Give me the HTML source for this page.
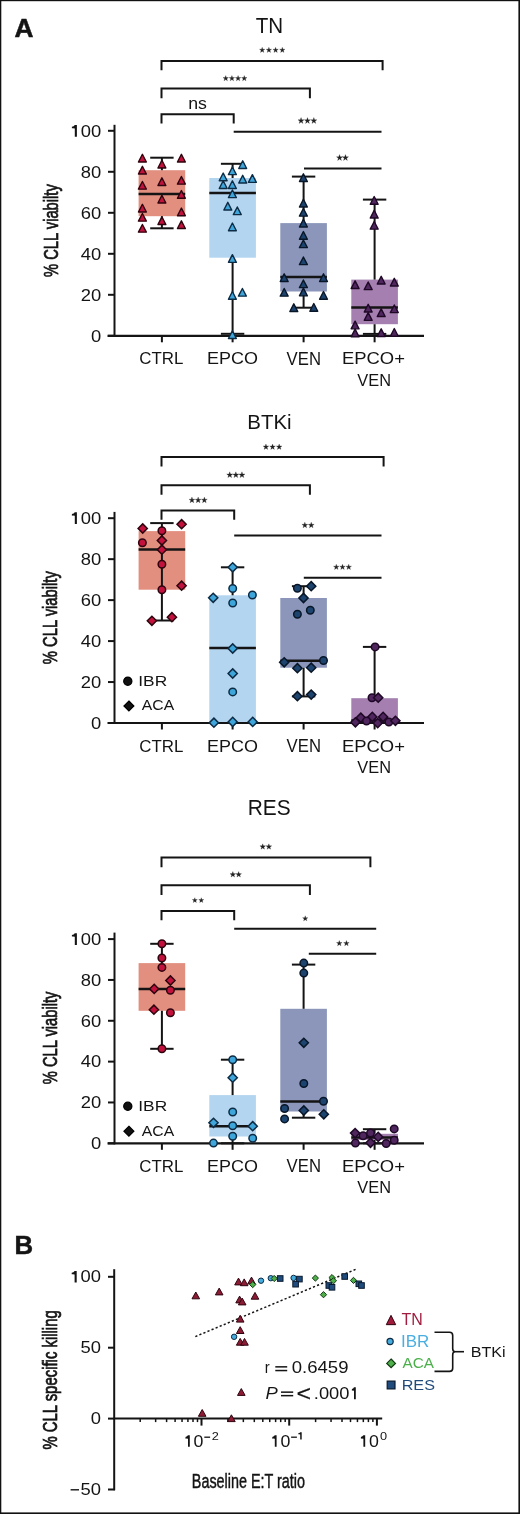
<!DOCTYPE html>
<html><head><meta charset="utf-8"><style>
html,body{margin:0;padding:0;background:#fff;}
body{width:520px;height:1514px;overflow:hidden;font-family:"Liberation Sans", sans-serif;}
svg{display:block;will-change:transform;}
text{font-family:"Liberation Sans", sans-serif;}
</style></head><body>
<svg width="520" height="1514" viewBox="0 0 520 1514" font-family="Liberation Sans, sans-serif">
<rect x="0" y="0" width="520" height="1514" fill="#fff"/>
<text transform="translate(14.54,36.8) scale(0.9923,1)" font-size="26.47" font-weight="bold" font-style="normal" fill="#141414" stroke="#141414" stroke-width="0.5">A</text>
<path d="M161.5,70.3 V61 H382.6 V70.3" fill="none" stroke="#141414" stroke-width="2"/>
<path d="M161.5,98.2 V88.6 H309.9 V98.2" fill="none" stroke="#141414" stroke-width="2"/>
<path d="M161.5,123.6 V114.3 H233.7 V123.6" fill="none" stroke="#141414" stroke-width="2"/>
<line x1="233.7" y1="131.8" x2="381.5" y2="131.8" stroke="#141414" stroke-width="2"/>
<line x1="304" y1="168.4" x2="381.5" y2="168.4" stroke="#141414" stroke-width="2"/>
<path d="M262.18,47.3 L262.84,49.21 L264.86,49.25 L263.25,50.47 L263.84,52.4 L262.18,51.25 L260.52,52.4 L261.11,50.47 L259.5,49.25 L261.52,49.21ZM268.89,47.3 L269.56,49.21 L271.57,49.25 L269.97,50.47 L270.55,52.4 L268.89,51.25 L267.24,52.4 L267.82,50.47 L266.21,49.25 L268.23,49.21ZM275.61,47.3 L276.27,49.21 L278.29,49.25 L276.68,50.47 L277.26,52.4 L275.61,51.25 L273.95,52.4 L274.53,50.47 L272.93,49.25 L274.94,49.21ZM282.32,47.3 L282.98,49.21 L285,49.25 L283.39,50.47 L283.98,52.4 L282.32,51.25 L280.66,52.4 L281.25,50.47 L279.64,49.25 L281.66,49.21Z" fill="#222" stroke="#222" stroke-width="0.25" stroke-linejoin="miter"/>
<path d="M225.73,75.6 L226.41,77.54 L228.47,77.59 L226.83,78.83 L227.42,80.8 L225.73,79.62 L224.04,80.8 L224.64,78.83 L223,77.59 L225.06,77.54ZM231.91,75.6 L232.59,77.54 L234.65,77.59 L233,78.83 L233.6,80.8 L231.91,79.62 L230.22,80.8 L230.82,78.83 L229.18,77.59 L231.24,77.54ZM238.09,75.6 L238.76,77.54 L240.82,77.59 L239.18,78.83 L239.78,80.8 L238.09,79.62 L236.4,80.8 L237,78.83 L235.35,77.59 L237.41,77.54ZM244.27,75.6 L244.94,77.54 L247,77.59 L245.36,78.83 L245.96,80.8 L244.27,79.62 L242.58,80.8 L243.17,78.83 L241.53,77.59 L243.59,77.54Z" fill="#222" stroke="#222" stroke-width="0.25" stroke-linejoin="miter"/>
<text transform="translate(188.2,108.53) scale(1.0675,1)" font-size="16.62" font-weight="normal" font-style="normal" fill="#141414" stroke="#141414" stroke-width="0.0">ns</text>
<path d="M301.05,117.6 L301.8,119.77 L304.1,119.82 L302.27,121.2 L302.93,123.4 L301.05,122.09 L299.16,123.4 L299.83,121.2 L298,119.82 L300.3,119.77ZM307.45,117.6 L308.2,119.77 L310.5,119.82 L308.67,121.2 L309.33,123.4 L307.45,122.09 L305.57,123.4 L306.23,121.2 L304.4,119.82 L306.7,119.77ZM313.85,117.6 L314.6,119.77 L316.9,119.82 L315.07,121.2 L315.74,123.4 L313.85,122.09 L311.97,123.4 L312.63,121.2 L310.8,119.82 L313.1,119.77Z" fill="#222" stroke="#222" stroke-width="0.25" stroke-linejoin="miter"/>
<path d="M339.55,154.6 L340.3,156.77 L342.6,156.82 L340.77,158.2 L341.43,160.4 L339.55,159.09 L337.66,160.4 L338.33,158.2 L336.5,156.82 L338.8,156.77ZM345.45,154.6 L346.2,156.77 L348.5,156.82 L346.67,158.2 L347.34,160.4 L345.45,159.09 L343.57,160.4 L344.23,158.2 L342.4,156.82 L344.7,156.77Z" fill="#222" stroke="#222" stroke-width="0.25" stroke-linejoin="miter"/>
<rect x="138.6" y="170.2" width="46.6" height="46" fill="#E28F80"/>
<line x1="161.9" y1="157.7" x2="161.9" y2="170.2" stroke="#141414" stroke-width="2"/>
<line x1="161.9" y1="216.2" x2="161.9" y2="228.3" stroke="#141414" stroke-width="2"/>
<line x1="150.2" y1="157.7" x2="173.6" y2="157.7" stroke="#141414" stroke-width="2"/>
<line x1="150.2" y1="228.3" x2="173.6" y2="228.3" stroke="#141414" stroke-width="2"/>
<line x1="138.6" y1="194.1" x2="185.2" y2="194.1" stroke="#141414" stroke-width="2.5"/>
<rect x="209.3" y="178" width="46.6" height="79.7" fill="#B3D5F0"/>
<line x1="232.6" y1="163.8" x2="232.6" y2="178" stroke="#141414" stroke-width="2"/>
<line x1="232.6" y1="257.7" x2="232.6" y2="333.8" stroke="#141414" stroke-width="2"/>
<line x1="220.9" y1="163.8" x2="244.3" y2="163.8" stroke="#141414" stroke-width="2"/>
<line x1="220.9" y1="333.8" x2="244.3" y2="333.8" stroke="#141414" stroke-width="2"/>
<line x1="209.3" y1="193.1" x2="255.9" y2="193.1" stroke="#141414" stroke-width="2.5"/>
<rect x="280.3" y="223.1" width="46.6" height="68.4" fill="#8B96BA"/>
<line x1="303.6" y1="176.6" x2="303.6" y2="223.1" stroke="#141414" stroke-width="2"/>
<line x1="303.6" y1="291.5" x2="303.6" y2="307.7" stroke="#141414" stroke-width="2"/>
<line x1="291.9" y1="176.6" x2="315.3" y2="176.6" stroke="#141414" stroke-width="2"/>
<line x1="291.9" y1="307.7" x2="315.3" y2="307.7" stroke="#141414" stroke-width="2"/>
<line x1="280.3" y1="276.9" x2="326.9" y2="276.9" stroke="#141414" stroke-width="2.5"/>
<rect x="351.3" y="279.6" width="46.6" height="44.6" fill="#A47FAF"/>
<line x1="374.6" y1="199.6" x2="374.6" y2="279.6" stroke="#141414" stroke-width="2"/>
<line x1="374.6" y1="324.2" x2="374.6" y2="333.9" stroke="#141414" stroke-width="2"/>
<line x1="362.9" y1="199.6" x2="386.3" y2="199.6" stroke="#141414" stroke-width="2"/>
<line x1="362.9" y1="333.9" x2="386.3" y2="333.9" stroke="#141414" stroke-width="2"/>
<line x1="351.3" y1="307.6" x2="397.9" y2="307.6" stroke="#141414" stroke-width="2.5"/>
<line x1="114.5" y1="124.8" x2="114.5" y2="336.8" stroke="#141414" stroke-width="2"/>
<line x1="108" y1="335.8" x2="115" y2="335.8" stroke="#141414" stroke-width="2"/>
<line x1="108" y1="294.8" x2="115" y2="294.8" stroke="#141414" stroke-width="2"/>
<line x1="108" y1="253.8" x2="115" y2="253.8" stroke="#141414" stroke-width="2"/>
<line x1="108" y1="212.8" x2="115" y2="212.8" stroke="#141414" stroke-width="2"/>
<line x1="108" y1="171.8" x2="115" y2="171.8" stroke="#141414" stroke-width="2"/>
<line x1="108" y1="130.8" x2="115" y2="130.8" stroke="#141414" stroke-width="2"/>
<line x1="107.5" y1="335.8" x2="424" y2="335.8" stroke="#141414" stroke-width="2.2"/>
<line x1="161.9" y1="335.8" x2="161.9" y2="342.3" stroke="#141414" stroke-width="2"/>
<line x1="232.6" y1="335.8" x2="232.6" y2="342.3" stroke="#141414" stroke-width="2"/>
<line x1="303.6" y1="335.8" x2="303.6" y2="342.3" stroke="#141414" stroke-width="2"/>
<line x1="374.6" y1="335.8" x2="374.6" y2="342.3" stroke="#141414" stroke-width="2"/>
<text transform="translate(90.88,341.53) scale(1.1033,1)" font-size="16.68" font-weight="normal" fill="#141414" stroke="#141414" stroke-width="0.0">0</text>
<text transform="translate(80.66,300.53) scale(1.1033,1)" font-size="16.68" font-weight="normal" fill="#141414" stroke="#141414" stroke-width="0.0">20</text>
<text transform="translate(80.66,259.53) scale(1.1033,1)" font-size="16.68" font-weight="normal" fill="#141414" stroke="#141414" stroke-width="0.0">40</text>
<text transform="translate(80.66,218.53) scale(1.1033,1)" font-size="16.68" font-weight="normal" fill="#141414" stroke="#141414" stroke-width="0.0">60</text>
<text transform="translate(80.66,177.53) scale(1.1033,1)" font-size="16.68" font-weight="normal" fill="#141414" stroke="#141414" stroke-width="0.0">80</text>
<text transform="translate(80.66,136.53) scale(1.1033,1)" font-size="16.68" font-weight="normal" fill="#141414" stroke="#141414" stroke-width="0.0">00</text>
<path d="M74.8,124.9 H76.9 V136.7 H74.8 V128.44 Q73.06,127.97 71.9,128.32 V126.67 Q73.93,126.32 74.8,124.9 Z" fill="#141414"/>
<text transform="translate(139.36,364.43) scale(0.9797,1)" font-size="17.24" font-weight="normal" font-style="normal" fill="#141414" stroke="#141414" stroke-width="0.0">CTRL</text>
<text transform="translate(206.92,364.43) scale(1.0429,1)" font-size="17.24" font-weight="normal" font-style="normal" fill="#141414" stroke="#141414" stroke-width="0.0">EPCO</text>
<text transform="translate(286.62,364.6) scale(0.9411,1)" font-size="17.75" font-weight="normal" font-style="normal" fill="#141414" stroke="#141414" stroke-width="0.0">VEN</text>
<text transform="translate(341.98,364.43) scale(1.0690,1)" font-size="17.24" font-weight="normal" font-style="normal" fill="#141414" stroke="#141414" stroke-width="0.0">EPCO+</text>
<text transform="translate(357.32,385.6) scale(0.9717,1)" font-size="16.87" font-weight="normal" font-style="normal" fill="#141414" stroke="#141414" stroke-width="0.0">VEN</text>
<text transform="translate(255.79,33.1) scale(0.9183,1)" font-size="22.40" font-weight="normal" font-style="normal" fill="#141414" stroke="#141414" stroke-width="0.0">TN</text>
<text transform="translate(57.56,276.92) rotate(-90) scale(0.7381,1)" font-size="19.95" fill="#141414" stroke="#141414" stroke-width="0.745">% CLL viabilty</text>
<polygon points="142.4,154.25 146.35,161.95 138.45,161.95" fill="#C3113D" stroke="#2E040E" stroke-width="1.4" stroke-linejoin="round"/>
<polygon points="142.4,166.35 146.35,174.05 138.45,174.05" fill="#C3113D" stroke="#2E040E" stroke-width="1.4" stroke-linejoin="round"/>
<polygon points="142.4,181.45 146.35,189.15 138.45,189.15" fill="#C3113D" stroke="#2E040E" stroke-width="1.4" stroke-linejoin="round"/>
<polygon points="142.4,204.25 146.35,211.95 138.45,211.95" fill="#C3113D" stroke="#2E040E" stroke-width="1.4" stroke-linejoin="round"/>
<polygon points="142.4,213.45 146.35,221.15 138.45,221.15" fill="#C3113D" stroke="#2E040E" stroke-width="1.4" stroke-linejoin="round"/>
<polygon points="142.4,224.45 146.35,232.15 138.45,232.15" fill="#C3113D" stroke="#2E040E" stroke-width="1.4" stroke-linejoin="round"/>
<polygon points="161.9,160.25 165.85,167.95 157.95,167.95" fill="#C3113D" stroke="#2E040E" stroke-width="1.4" stroke-linejoin="round"/>
<polygon points="161.9,177.75 165.85,185.45 157.95,185.45" fill="#C3113D" stroke="#2E040E" stroke-width="1.4" stroke-linejoin="round"/>
<polygon points="161.9,195.25 165.85,202.95 157.95,202.95" fill="#C3113D" stroke="#2E040E" stroke-width="1.4" stroke-linejoin="round"/>
<polygon points="161.9,216.85 165.85,224.55 157.95,224.55" fill="#C3113D" stroke="#2E040E" stroke-width="1.4" stroke-linejoin="round"/>
<polygon points="181.4,154.25 185.35,161.95 177.45,161.95" fill="#C3113D" stroke="#2E040E" stroke-width="1.4" stroke-linejoin="round"/>
<polygon points="181.4,176.45 185.35,184.15 177.45,184.15" fill="#C3113D" stroke="#2E040E" stroke-width="1.4" stroke-linejoin="round"/>
<polygon points="181.4,190.55 185.35,198.25 177.45,198.25" fill="#C3113D" stroke="#2E040E" stroke-width="1.4" stroke-linejoin="round"/>
<polygon points="181.4,208.05 185.35,215.75 177.45,215.75" fill="#C3113D" stroke="#2E040E" stroke-width="1.4" stroke-linejoin="round"/>
<polygon points="181.4,220.85 185.35,228.55 177.45,228.55" fill="#C3113D" stroke="#2E040E" stroke-width="1.4" stroke-linejoin="round"/>
<polygon points="242.7,160.75 246.65,168.45 238.75,168.45" fill="#3EA6DA" stroke="#0E2B44" stroke-width="1.4" stroke-linejoin="round"/>
<polygon points="232.4,166.95 236.35,174.65 228.45,174.65" fill="#3EA6DA" stroke="#0E2B44" stroke-width="1.4" stroke-linejoin="round"/>
<polygon points="223.2,173.05 227.15,180.75 219.25,180.75" fill="#3EA6DA" stroke="#0E2B44" stroke-width="1.4" stroke-linejoin="round"/>
<polygon points="242.7,175.35 246.65,183.05 238.75,183.05" fill="#3EA6DA" stroke="#0E2B44" stroke-width="1.4" stroke-linejoin="round"/>
<polygon points="252.4,174.65 256.35,182.35 248.45,182.35" fill="#3EA6DA" stroke="#0E2B44" stroke-width="1.4" stroke-linejoin="round"/>
<polygon points="223.2,180.75 227.15,188.45 219.25,188.45" fill="#3EA6DA" stroke="#0E2B44" stroke-width="1.4" stroke-linejoin="round"/>
<polygon points="232.4,180.75 236.35,188.45 228.45,188.45" fill="#3EA6DA" stroke="#0E2B44" stroke-width="1.4" stroke-linejoin="round"/>
<polygon points="232.4,189.95 236.35,197.65 228.45,197.65" fill="#3EA6DA" stroke="#0E2B44" stroke-width="1.4" stroke-linejoin="round"/>
<polygon points="227.8,202.35 231.75,210.05 223.85,210.05" fill="#3EA6DA" stroke="#0E2B44" stroke-width="1.4" stroke-linejoin="round"/>
<polygon points="237.3,206.95 241.25,214.65 233.35,214.65" fill="#3EA6DA" stroke="#0E2B44" stroke-width="1.4" stroke-linejoin="round"/>
<polygon points="232.4,223.05 236.35,230.75 228.45,230.75" fill="#3EA6DA" stroke="#0E2B44" stroke-width="1.4" stroke-linejoin="round"/>
<polygon points="232.4,254.65 236.35,262.35 228.45,262.35" fill="#3EA6DA" stroke="#0E2B44" stroke-width="1.4" stroke-linejoin="round"/>
<polygon points="232.4,291.55 236.35,299.25 228.45,299.25" fill="#3EA6DA" stroke="#0E2B44" stroke-width="1.4" stroke-linejoin="round"/>
<polygon points="242.4,288.45 246.35,296.15 238.45,296.15" fill="#3EA6DA" stroke="#0E2B44" stroke-width="1.4" stroke-linejoin="round"/>
<polygon points="232.4,330.75 236.35,338.45 228.45,338.45" fill="#3EA6DA" stroke="#0E2B44" stroke-width="1.4" stroke-linejoin="round"/>
<polygon points="303.4,173.85 307.35,181.55 299.45,181.55" fill="#1D446F" stroke="#081628" stroke-width="1.4" stroke-linejoin="round"/>
<polygon points="303.4,199.25 307.35,206.95 299.45,206.95" fill="#1D446F" stroke="#081628" stroke-width="1.4" stroke-linejoin="round"/>
<polygon points="303.4,208.45 307.35,216.15 299.45,216.15" fill="#1D446F" stroke="#081628" stroke-width="1.4" stroke-linejoin="round"/>
<polygon points="303.4,219.25 307.35,226.95 299.45,226.95" fill="#1D446F" stroke="#081628" stroke-width="1.4" stroke-linejoin="round"/>
<polygon points="303.4,231.55 307.35,239.25 299.45,239.25" fill="#1D446F" stroke="#081628" stroke-width="1.4" stroke-linejoin="round"/>
<polygon points="303.4,239.95 307.35,247.65 299.45,247.65" fill="#1D446F" stroke="#081628" stroke-width="1.4" stroke-linejoin="round"/>
<polygon points="303.4,256.95 307.35,264.65 299.45,264.65" fill="#1D446F" stroke="#081628" stroke-width="1.4" stroke-linejoin="round"/>
<polygon points="284.2,273.85 288.15,281.55 280.25,281.55" fill="#1D446F" stroke="#081628" stroke-width="1.4" stroke-linejoin="round"/>
<polygon points="323.5,273.85 327.45,281.55 319.55,281.55" fill="#1D446F" stroke="#081628" stroke-width="1.4" stroke-linejoin="round"/>
<polygon points="303.4,279.95 307.35,287.65 299.45,287.65" fill="#1D446F" stroke="#081628" stroke-width="1.4" stroke-linejoin="round"/>
<polygon points="303.4,288.15 307.35,295.85 299.45,295.85" fill="#1D446F" stroke="#081628" stroke-width="1.4" stroke-linejoin="round"/>
<polygon points="284.2,288.45 288.15,296.15 280.25,296.15" fill="#1D446F" stroke="#081628" stroke-width="1.4" stroke-linejoin="round"/>
<polygon points="323.5,291.55 327.45,299.25 319.55,299.25" fill="#1D446F" stroke="#081628" stroke-width="1.4" stroke-linejoin="round"/>
<polygon points="293.8,303.85 297.75,311.55 289.85,311.55" fill="#1D446F" stroke="#081628" stroke-width="1.4" stroke-linejoin="round"/>
<polygon points="313.8,303.55 317.75,311.25 309.85,311.25" fill="#1D446F" stroke="#081628" stroke-width="1.4" stroke-linejoin="round"/>
<polygon points="374.2,196.55 378.15,204.25 370.25,204.25" fill="#50265F" stroke="#1E0826" stroke-width="1.4" stroke-linejoin="round"/>
<polygon points="374.2,210.35 378.15,218.05 370.25,218.05" fill="#50265F" stroke="#1E0826" stroke-width="1.4" stroke-linejoin="round"/>
<polygon points="374.2,221.45 378.15,229.15 370.25,229.15" fill="#50265F" stroke="#1E0826" stroke-width="1.4" stroke-linejoin="round"/>
<polygon points="355.1,280.85 359.05,288.55 351.15,288.55" fill="#50265F" stroke="#1E0826" stroke-width="1.4" stroke-linejoin="round"/>
<polygon points="368.2,281.95 372.15,289.65 364.25,289.65" fill="#50265F" stroke="#1E0826" stroke-width="1.4" stroke-linejoin="round"/>
<polygon points="381.2,276.25 385.15,283.95 377.25,283.95" fill="#50265F" stroke="#1E0826" stroke-width="1.4" stroke-linejoin="round"/>
<polygon points="394.3,278.35 398.25,286.05 390.35,286.05" fill="#50265F" stroke="#1E0826" stroke-width="1.4" stroke-linejoin="round"/>
<polygon points="368.2,304.25 372.15,311.95 364.25,311.95" fill="#50265F" stroke="#1E0826" stroke-width="1.4" stroke-linejoin="round"/>
<polygon points="394.3,304.95 398.25,312.65 390.35,312.65" fill="#50265F" stroke="#1E0826" stroke-width="1.4" stroke-linejoin="round"/>
<polygon points="381.2,308.85 385.15,316.55 377.25,316.55" fill="#50265F" stroke="#1E0826" stroke-width="1.4" stroke-linejoin="round"/>
<polygon points="368.2,312.65 372.15,320.35 364.25,320.35" fill="#50265F" stroke="#1E0826" stroke-width="1.4" stroke-linejoin="round"/>
<polygon points="355.1,321.15 359.05,328.85 351.15,328.85" fill="#50265F" stroke="#1E0826" stroke-width="1.4" stroke-linejoin="round"/>
<polygon points="355.1,329.15 359.05,336.85 351.15,336.85" fill="#50265F" stroke="#1E0826" stroke-width="1.4" stroke-linejoin="round"/>
<polygon points="381.2,328.85 385.15,336.55 377.25,336.55" fill="#50265F" stroke="#1E0826" stroke-width="1.4" stroke-linejoin="round"/>
<polygon points="394.3,328.55 398.25,336.25 390.35,336.25" fill="#50265F" stroke="#1E0826" stroke-width="1.4" stroke-linejoin="round"/>
<path d="M161.5,466.4 V457.1 H383.6 V466.4" fill="none" stroke="#141414" stroke-width="2"/>
<path d="M161.5,494.8 V485.3 H309.9 V494.8" fill="none" stroke="#141414" stroke-width="2"/>
<path d="M161.5,519.8 V510.4 H234.2 V519.8" fill="none" stroke="#141414" stroke-width="2"/>
<line x1="234.2" y1="535.6" x2="381.5" y2="535.6" stroke="#141414" stroke-width="2"/>
<line x1="303.8" y1="577.8" x2="381.5" y2="577.8" stroke="#141414" stroke-width="2"/>
<path d="M265.94,444 L266.64,446.02 L268.78,446.06 L267.07,447.35 L267.69,449.4 L265.94,448.18 L264.18,449.4 L264.8,447.35 L263.1,446.06 L265.24,446.02ZM272.55,444 L273.25,446.02 L275.39,446.06 L273.69,447.35 L274.3,449.4 L272.55,448.18 L270.8,449.4 L271.41,447.35 L269.71,446.06 L271.85,446.02ZM279.16,444 L279.86,446.02 L282,446.06 L280.3,447.35 L280.92,449.4 L279.16,448.18 L277.41,449.4 L278.03,447.35 L276.32,446.06 L278.46,446.02Z" fill="#222" stroke="#222" stroke-width="0.25" stroke-linejoin="miter"/>
<path d="M229.75,471.8 L230.5,473.97 L232.8,474.02 L230.97,475.4 L231.63,477.6 L229.75,476.29 L227.86,477.6 L228.53,475.4 L226.7,474.02 L229,473.97ZM235.85,471.8 L236.6,473.97 L238.9,474.02 L237.07,475.4 L237.73,477.6 L235.85,476.29 L233.97,477.6 L234.63,475.4 L232.8,474.02 L235.1,473.97ZM241.95,471.8 L242.7,473.97 L245,474.02 L243.17,475.4 L243.84,477.6 L241.95,476.29 L240.07,477.6 L240.73,475.4 L238.9,474.02 L241.2,473.97Z" fill="#222" stroke="#222" stroke-width="0.25" stroke-linejoin="miter"/>
<path d="M191.94,497.1 L192.67,499.19 L194.89,499.24 L193.12,500.58 L193.76,502.7 L191.94,501.43 L190.12,502.7 L190.77,500.58 L189,499.24 L191.22,499.19ZM198.15,497.1 L198.88,499.19 L201.09,499.24 L199.33,500.58 L199.97,502.7 L198.15,501.43 L196.33,502.7 L196.97,500.58 L195.21,499.24 L197.42,499.19ZM204.36,497.1 L205.08,499.19 L207.3,499.24 L205.53,500.58 L206.18,502.7 L204.36,501.43 L202.54,502.7 L203.18,500.58 L201.41,499.24 L203.63,499.19Z" fill="#222" stroke="#222" stroke-width="0.25" stroke-linejoin="miter"/>
<path d="M304.84,522.2 L305.57,524.29 L307.79,524.34 L306.02,525.68 L306.66,527.8 L304.84,526.53 L303.02,527.8 L303.67,525.68 L301.9,524.34 L304.12,524.29ZM311.26,522.2 L311.98,524.29 L314.2,524.34 L312.43,525.68 L313.08,527.8 L311.26,526.53 L309.44,527.8 L310.08,525.68 L308.31,524.34 L310.53,524.29Z" fill="#222" stroke="#222" stroke-width="0.25" stroke-linejoin="miter"/>
<path d="M336.29,564.2 L336.98,566.18 L339.07,566.22 L337.4,567.49 L338.01,569.5 L336.29,568.3 L334.56,569.5 L335.17,567.49 L333.5,566.22 L335.6,566.18ZM342.5,564.2 L343.19,566.18 L345.29,566.22 L343.61,567.49 L344.22,569.5 L342.5,568.3 L340.78,569.5 L341.39,567.49 L339.71,566.22 L341.81,566.18ZM348.71,564.2 L349.4,566.18 L351.5,566.22 L349.83,567.49 L350.44,569.5 L348.71,568.3 L346.99,569.5 L347.6,567.49 L345.93,566.22 L348.02,566.18Z" fill="#222" stroke="#222" stroke-width="0.25" stroke-linejoin="miter"/>
<rect x="138.6" y="531.1" width="46.6" height="58.6" fill="#E28F80"/>
<line x1="161.9" y1="523.1" x2="161.9" y2="620.5" stroke="#141414" stroke-width="2"/>
<line x1="150.2" y1="523.1" x2="173.6" y2="523.1" stroke="#141414" stroke-width="2"/>
<line x1="150.2" y1="620.5" x2="173.6" y2="620.5" stroke="#141414" stroke-width="2"/>
<line x1="138.6" y1="549.5" x2="185.2" y2="549.5" stroke="#141414" stroke-width="2.5"/>
<rect x="209.3" y="595.3" width="46.6" height="127.7" fill="#B3D5F0"/>
<line x1="232.6" y1="567.3" x2="232.6" y2="595.3" stroke="#141414" stroke-width="2"/>
<line x1="232.6" y1="723" x2="232.6" y2="723" stroke="#141414" stroke-width="2"/>
<line x1="220.9" y1="567.3" x2="244.3" y2="567.3" stroke="#141414" stroke-width="2"/>
<line x1="220.9" y1="723" x2="244.3" y2="723" stroke="#141414" stroke-width="2"/>
<line x1="209.3" y1="648.1" x2="255.9" y2="648.1" stroke="#141414" stroke-width="2.5"/>
<rect x="280.3" y="598" width="46.6" height="69.7" fill="#8B96BA"/>
<line x1="303.6" y1="586.2" x2="303.6" y2="598" stroke="#141414" stroke-width="2"/>
<line x1="303.6" y1="667.7" x2="303.6" y2="696.4" stroke="#141414" stroke-width="2"/>
<line x1="291.9" y1="586.2" x2="315.3" y2="586.2" stroke="#141414" stroke-width="2"/>
<line x1="291.9" y1="696.4" x2="315.3" y2="696.4" stroke="#141414" stroke-width="2"/>
<line x1="280.3" y1="660.8" x2="326.9" y2="660.8" stroke="#141414" stroke-width="2.5"/>
<rect x="351.3" y="698.2" width="46.6" height="24.8" fill="#A47FAF"/>
<line x1="374.6" y1="646.9" x2="374.6" y2="698.2" stroke="#141414" stroke-width="2"/>
<line x1="374.6" y1="723" x2="374.6" y2="723" stroke="#141414" stroke-width="2"/>
<line x1="362.9" y1="646.9" x2="386.3" y2="646.9" stroke="#141414" stroke-width="2"/>
<line x1="362.9" y1="723" x2="386.3" y2="723" stroke="#141414" stroke-width="2"/>
<line x1="351.3" y1="720.5" x2="397.9" y2="720.5" stroke="#141414" stroke-width="2.5"/>
<line x1="114.5" y1="511.9" x2="114.5" y2="724" stroke="#141414" stroke-width="2"/>
<line x1="108" y1="723" x2="115" y2="723" stroke="#141414" stroke-width="2"/>
<line x1="108" y1="682.04" x2="115" y2="682.04" stroke="#141414" stroke-width="2"/>
<line x1="108" y1="641.08" x2="115" y2="641.08" stroke="#141414" stroke-width="2"/>
<line x1="108" y1="600.12" x2="115" y2="600.12" stroke="#141414" stroke-width="2"/>
<line x1="108" y1="559.16" x2="115" y2="559.16" stroke="#141414" stroke-width="2"/>
<line x1="108" y1="518.2" x2="115" y2="518.2" stroke="#141414" stroke-width="2"/>
<line x1="107.5" y1="723" x2="424" y2="723" stroke="#141414" stroke-width="2.2"/>
<line x1="161.9" y1="723" x2="161.9" y2="729.5" stroke="#141414" stroke-width="2"/>
<line x1="232.6" y1="723" x2="232.6" y2="729.5" stroke="#141414" stroke-width="2"/>
<line x1="303.6" y1="723" x2="303.6" y2="729.5" stroke="#141414" stroke-width="2"/>
<line x1="374.6" y1="723" x2="374.6" y2="729.5" stroke="#141414" stroke-width="2"/>
<text transform="translate(90.88,728.73) scale(1.1033,1)" font-size="16.68" font-weight="normal" fill="#141414" stroke="#141414" stroke-width="0.0">0</text>
<text transform="translate(80.66,687.77) scale(1.1033,1)" font-size="16.68" font-weight="normal" fill="#141414" stroke="#141414" stroke-width="0.0">20</text>
<text transform="translate(80.66,646.81) scale(1.1033,1)" font-size="16.68" font-weight="normal" fill="#141414" stroke="#141414" stroke-width="0.0">40</text>
<text transform="translate(80.66,605.85) scale(1.1033,1)" font-size="16.68" font-weight="normal" fill="#141414" stroke="#141414" stroke-width="0.0">60</text>
<text transform="translate(80.66,564.89) scale(1.1033,1)" font-size="16.68" font-weight="normal" fill="#141414" stroke="#141414" stroke-width="0.0">80</text>
<text transform="translate(80.66,523.93) scale(1.1033,1)" font-size="16.68" font-weight="normal" fill="#141414" stroke="#141414" stroke-width="0.0">00</text>
<path d="M74.8,512.3 H76.9 V524.1 H74.8 V515.84 Q73.06,515.37 71.9,515.72 V514.07 Q73.93,513.72 74.8,512.3 Z" fill="#141414"/>
<text transform="translate(139.36,751.63) scale(0.9797,1)" font-size="17.24" font-weight="normal" font-style="normal" fill="#141414" stroke="#141414" stroke-width="0.0">CTRL</text>
<text transform="translate(206.92,751.63) scale(1.0429,1)" font-size="17.24" font-weight="normal" font-style="normal" fill="#141414" stroke="#141414" stroke-width="0.0">EPCO</text>
<text transform="translate(286.62,751.8) scale(0.9411,1)" font-size="17.75" font-weight="normal" font-style="normal" fill="#141414" stroke="#141414" stroke-width="0.0">VEN</text>
<text transform="translate(341.98,751.63) scale(1.0690,1)" font-size="17.24" font-weight="normal" font-style="normal" fill="#141414" stroke="#141414" stroke-width="0.0">EPCO+</text>
<text transform="translate(357.32,772.8) scale(0.9717,1)" font-size="16.87" font-weight="normal" font-style="normal" fill="#141414" stroke="#141414" stroke-width="0.0">VEN</text>
<text transform="translate(247.32,428.7) scale(1.0211,1)" font-size="20.00" font-weight="normal" font-style="normal" fill="#141414" stroke="#141414" stroke-width="0.0">BTKi</text>
<text transform="translate(57.36,664.22) rotate(-90) scale(0.7413,1)" font-size="19.95" fill="#141414" stroke="#141414" stroke-width="0.742">% CLL viabilty</text>
<circle cx="127.8" cy="681.2" r="4.1" fill="#111" stroke="#000" stroke-width="1.2"/>
<text transform="translate(138.3,685.9) scale(1.1468,1)" font-size="15.13" font-weight="normal" font-style="normal" fill="#141414" stroke="#141414" stroke-width="0.0">IBR</text>
<polygon points="128.9,701.04 133.86,706 128.9,710.96 123.94,706" fill="#111" stroke="#000" stroke-width="1.2"/>
<text transform="translate(141.86,710.35) scale(1.0309,1)" font-size="15.27" font-weight="normal" font-style="normal" fill="#141414" stroke="#141414" stroke-width="0.0">ACA</text>
<polygon points="142.7,523.9 147.3,528.5 142.7,533.1 138.1,528.5" fill="#C3113D" stroke="#2E040E" stroke-width="1.5"/>
<polygon points="181.6,519.6 186.2,524.2 181.6,528.8 177,524.2" fill="#C3113D" stroke="#2E040E" stroke-width="1.5"/>
<circle cx="161.9" cy="530.8" r="3.75" fill="#C3113D" stroke="#2E040E" stroke-width="1.5"/>
<circle cx="142.4" cy="542.8" r="3.75" fill="#C3113D" stroke="#2E040E" stroke-width="1.5"/>
<polygon points="161.9,535.9 166.5,540.5 161.9,545.1 157.3,540.5" fill="#C3113D" stroke="#2E040E" stroke-width="1.5"/>
<polygon points="161.9,545.1 166.5,549.7 161.9,554.3 157.3,549.7" fill="#C3113D" stroke="#2E040E" stroke-width="1.5"/>
<circle cx="161.9" cy="564.3" r="3.75" fill="#C3113D" stroke="#2E040E" stroke-width="1.5"/>
<polygon points="181.6,581.1 186.2,585.7 181.6,590.3 177,585.7" fill="#C3113D" stroke="#2E040E" stroke-width="1.5"/>
<circle cx="161.9" cy="589.7" r="3.75" fill="#C3113D" stroke="#2E040E" stroke-width="1.5"/>
<polygon points="151.9,616.2 156.5,620.8 151.9,625.4 147.3,620.8" fill="#C3113D" stroke="#2E040E" stroke-width="1.5"/>
<polygon points="171.9,612.6 176.5,617.2 171.9,621.8 167.3,617.2" fill="#C3113D" stroke="#2E040E" stroke-width="1.5"/>
<polygon points="232.7,562.7 237.3,567.3 232.7,571.9 228.1,567.3" fill="#3EA6DA" stroke="#0E2B44" stroke-width="1.5"/>
<circle cx="232.7" cy="588.5" r="3.75" fill="#3EA6DA" stroke="#0E2B44" stroke-width="1.5"/>
<polygon points="213.2,593.2 217.8,597.8 213.2,602.4 208.6,597.8" fill="#3EA6DA" stroke="#0E2B44" stroke-width="1.5"/>
<circle cx="252.4" cy="595" r="3.75" fill="#3EA6DA" stroke="#0E2B44" stroke-width="1.5"/>
<circle cx="232.7" cy="603" r="3.75" fill="#3EA6DA" stroke="#0E2B44" stroke-width="1.5"/>
<polygon points="232.7,643.9 237.3,648.5 232.7,653.1 228.1,648.5" fill="#3EA6DA" stroke="#0E2B44" stroke-width="1.5"/>
<polygon points="232.7,668.9 237.3,673.5 232.7,678.1 228.1,673.5" fill="#3EA6DA" stroke="#0E2B44" stroke-width="1.5"/>
<circle cx="232.7" cy="691.9" r="3.75" fill="#3EA6DA" stroke="#0E2B44" stroke-width="1.5"/>
<polygon points="213.9,718.1 218.5,722.7 213.9,727.3 209.3,722.7" fill="#3EA6DA" stroke="#0E2B44" stroke-width="1.5"/>
<polygon points="232.7,717.3 237.3,721.9 232.7,726.5 228.1,721.9" fill="#3EA6DA" stroke="#0E2B44" stroke-width="1.5"/>
<polygon points="252.7,717.3 257.3,721.9 252.7,726.5 248.1,721.9" fill="#3EA6DA" stroke="#0E2B44" stroke-width="1.5"/>
<circle cx="297.4" cy="588.2" r="3.75" fill="#1D446F" stroke="#081628" stroke-width="1.5"/>
<polygon points="311.2,581.6 315.8,586.2 311.2,590.8 306.6,586.2" fill="#1D446F" stroke="#081628" stroke-width="1.5"/>
<polygon points="303.5,593.4 308.1,598 303.5,602.6 298.9,598" fill="#1D446F" stroke="#081628" stroke-width="1.5"/>
<circle cx="297.4" cy="614.3" r="3.75" fill="#1D446F" stroke="#081628" stroke-width="1.5"/>
<circle cx="310.3" cy="610.3" r="3.75" fill="#1D446F" stroke="#081628" stroke-width="1.5"/>
<polygon points="284.2,657.7 288.8,662.3 284.2,666.9 279.6,662.3" fill="#1D446F" stroke="#081628" stroke-width="1.5"/>
<circle cx="323.5" cy="660.5" r="3.75" fill="#1D446F" stroke="#081628" stroke-width="1.5"/>
<polygon points="297.4,663.6 302,668.2 297.4,672.8 292.8,668.2" fill="#1D446F" stroke="#081628" stroke-width="1.5"/>
<polygon points="311.2,663.1 315.8,667.7 311.2,672.3 306.6,667.7" fill="#1D446F" stroke="#081628" stroke-width="1.5"/>
<polygon points="297.4,691.6 302,696.2 297.4,700.8 292.8,696.2" fill="#1D446F" stroke="#081628" stroke-width="1.5"/>
<polygon points="311.2,690 315.8,694.6 311.2,699.2 306.6,694.6" fill="#1D446F" stroke="#081628" stroke-width="1.5"/>
<circle cx="375.1" cy="646.9" r="3.75" fill="#50265F" stroke="#1E0826" stroke-width="1.5"/>
<circle cx="372" cy="697.7" r="3.75" fill="#50265F" stroke="#1E0826" stroke-width="1.5"/>
<polygon points="378.2,693.1 382.8,697.7 378.2,702.3 373.6,697.7" fill="#50265F" stroke="#1E0826" stroke-width="1.5"/>
<polygon points="360.8,713.1 365.4,717.7 360.8,722.3 356.2,717.7" fill="#50265F" stroke="#1E0826" stroke-width="1.5"/>
<polygon points="372.3,712.3 376.9,716.9 372.3,721.5 367.7,716.9" fill="#50265F" stroke="#1E0826" stroke-width="1.5"/>
<polygon points="383.1,712.3 387.7,716.9 383.1,721.5 378.5,716.9" fill="#50265F" stroke="#1E0826" stroke-width="1.5"/>
<polygon points="355.4,717.7 360,722.3 355.4,726.9 350.8,722.3" fill="#50265F" stroke="#1E0826" stroke-width="1.5"/>
<circle cx="366.5" cy="721.1" r="3.75" fill="#50265F" stroke="#1E0826" stroke-width="1.5"/>
<polygon points="377.7,718.5 382.3,723.1 377.7,727.7 373.1,723.1" fill="#50265F" stroke="#1E0826" stroke-width="1.5"/>
<circle cx="388.9" cy="722" r="3.75" fill="#50265F" stroke="#1E0826" stroke-width="1.5"/>
<polygon points="395.4,716.2 400,720.8 395.4,725.4 390.8,720.8" fill="#50265F" stroke="#1E0826" stroke-width="1.5"/>
<path d="M161.5,867.2 V857.5 H370.4 V867.2" fill="none" stroke="#141414" stroke-width="2"/>
<path d="M161.5,894.9 V885.2 H309.9 V894.9" fill="none" stroke="#141414" stroke-width="2"/>
<path d="M161.5,920.2 V911 H234.2 V920.2" fill="none" stroke="#141414" stroke-width="2"/>
<line x1="234.2" y1="928.7" x2="376.2" y2="928.7" stroke="#141414" stroke-width="2"/>
<line x1="308.8" y1="953.8" x2="376.2" y2="953.8" stroke="#141414" stroke-width="2"/>
<path d="M262.74,843.8 L263.44,845.82 L265.58,845.86 L263.87,847.15 L264.49,849.2 L262.74,847.98 L260.98,849.2 L261.6,847.15 L259.9,845.86 L262.04,845.82ZM268.86,843.8 L269.56,845.82 L271.7,845.86 L270,847.15 L270.62,849.2 L268.86,847.98 L267.11,849.2 L267.73,847.15 L266.02,845.86 L268.16,845.82Z" fill="#222" stroke="#222" stroke-width="0.25" stroke-linejoin="miter"/>
<path d="M232.84,871.6 L233.54,873.62 L235.68,873.66 L233.97,874.95 L234.59,877 L232.84,875.78 L231.08,877 L231.7,874.95 L230,873.66 L232.14,873.62ZM238.66,871.6 L239.36,873.62 L241.5,873.66 L239.8,874.95 L240.42,877 L238.66,875.78 L236.91,877 L237.53,874.95 L235.82,873.66 L237.96,873.62Z" fill="#222" stroke="#222" stroke-width="0.25" stroke-linejoin="miter"/>
<path d="M194.82,897.7 L195.45,899.49 L197.35,899.53 L195.83,900.68 L196.38,902.5 L194.82,901.41 L193.26,902.5 L193.81,900.68 L192.3,899.53 L194.2,899.49ZM201.28,897.7 L201.9,899.49 L203.8,899.53 L202.29,900.68 L202.84,902.5 L201.28,901.41 L199.72,902.5 L200.27,900.68 L198.75,899.53 L200.65,899.49Z" fill="#222" stroke="#222" stroke-width="0.25" stroke-linejoin="miter"/>
<path d="M305.23,915.8 L305.88,917.67 L307.86,917.71 L306.28,918.91 L306.85,920.8 L305.23,919.67 L303.6,920.8 L304.18,918.91 L302.6,917.71 L304.58,917.67Z" fill="#222" stroke="#222" stroke-width="0.25" stroke-linejoin="miter"/>
<path d="M339.29,940.5 L339.98,942.48 L342.07,942.52 L340.4,943.79 L341.01,945.8 L339.29,944.6 L337.56,945.8 L338.17,943.79 L336.5,942.52 L338.6,942.48ZM346.41,940.5 L347.1,942.48 L349.2,942.52 L347.53,943.79 L348.14,945.8 L346.41,944.6 L344.69,945.8 L345.3,943.79 L343.63,942.52 L345.72,942.48Z" fill="#222" stroke="#222" stroke-width="0.25" stroke-linejoin="miter"/>
<rect x="138.6" y="963.1" width="46.6" height="47.7" fill="#E28F80"/>
<line x1="161.9" y1="943.8" x2="161.9" y2="963.1" stroke="#141414" stroke-width="2"/>
<line x1="161.9" y1="1010.8" x2="161.9" y2="1048.8" stroke="#141414" stroke-width="2"/>
<line x1="150.2" y1="943.8" x2="173.6" y2="943.8" stroke="#141414" stroke-width="2"/>
<line x1="150.2" y1="1048.8" x2="173.6" y2="1048.8" stroke="#141414" stroke-width="2"/>
<line x1="138.6" y1="988.9" x2="185.2" y2="988.9" stroke="#141414" stroke-width="2.5"/>
<rect x="209.3" y="1095.1" width="46.6" height="41.4" fill="#B3D5F0"/>
<line x1="232.6" y1="1059.7" x2="232.6" y2="1095.1" stroke="#141414" stroke-width="2"/>
<line x1="232.6" y1="1136.5" x2="232.6" y2="1143.3" stroke="#141414" stroke-width="2"/>
<line x1="220.9" y1="1059.7" x2="244.3" y2="1059.7" stroke="#141414" stroke-width="2"/>
<line x1="220.9" y1="1143.3" x2="244.3" y2="1143.3" stroke="#141414" stroke-width="2"/>
<line x1="209.3" y1="1126.2" x2="255.9" y2="1126.2" stroke="#141414" stroke-width="2.5"/>
<rect x="280.3" y="1008.8" width="46.6" height="102.7" fill="#8B96BA"/>
<line x1="303.6" y1="964.6" x2="303.6" y2="1008.8" stroke="#141414" stroke-width="2"/>
<line x1="303.6" y1="1111.5" x2="303.6" y2="1117.7" stroke="#141414" stroke-width="2"/>
<line x1="291.9" y1="964.6" x2="315.3" y2="964.6" stroke="#141414" stroke-width="2"/>
<line x1="291.9" y1="1117.7" x2="315.3" y2="1117.7" stroke="#141414" stroke-width="2"/>
<line x1="280.3" y1="1101.5" x2="326.9" y2="1101.5" stroke="#141414" stroke-width="2.5"/>
<rect x="351.3" y="1133.8" width="46.6" height="6.2" fill="#A47FAF"/>
<line x1="374.6" y1="1129.2" x2="374.6" y2="1133.8" stroke="#141414" stroke-width="2"/>
<line x1="374.6" y1="1140" x2="374.6" y2="1143.3" stroke="#141414" stroke-width="2"/>
<line x1="362.9" y1="1129.2" x2="386.3" y2="1129.2" stroke="#141414" stroke-width="2"/>
<line x1="362.9" y1="1143.3" x2="386.3" y2="1143.3" stroke="#141414" stroke-width="2"/>
<line x1="351.3" y1="1137.5" x2="397.9" y2="1137.5" stroke="#141414" stroke-width="2.5"/>
<line x1="114.5" y1="932.6" x2="114.5" y2="1144.3" stroke="#141414" stroke-width="2"/>
<line x1="108" y1="1143.3" x2="115" y2="1143.3" stroke="#141414" stroke-width="2"/>
<line x1="108" y1="1102.46" x2="115" y2="1102.46" stroke="#141414" stroke-width="2"/>
<line x1="108" y1="1061.62" x2="115" y2="1061.62" stroke="#141414" stroke-width="2"/>
<line x1="108" y1="1020.78" x2="115" y2="1020.78" stroke="#141414" stroke-width="2"/>
<line x1="108" y1="979.94" x2="115" y2="979.94" stroke="#141414" stroke-width="2"/>
<line x1="108" y1="939.1" x2="115" y2="939.1" stroke="#141414" stroke-width="2"/>
<line x1="107.5" y1="1143.3" x2="424" y2="1143.3" stroke="#141414" stroke-width="2.2"/>
<line x1="161.9" y1="1143.3" x2="161.9" y2="1149.8" stroke="#141414" stroke-width="2"/>
<line x1="232.6" y1="1143.3" x2="232.6" y2="1149.8" stroke="#141414" stroke-width="2"/>
<line x1="303.6" y1="1143.3" x2="303.6" y2="1149.8" stroke="#141414" stroke-width="2"/>
<line x1="374.6" y1="1143.3" x2="374.6" y2="1149.8" stroke="#141414" stroke-width="2"/>
<text transform="translate(90.88,1149.03) scale(1.1033,1)" font-size="16.68" font-weight="normal" fill="#141414" stroke="#141414" stroke-width="0.0">0</text>
<text transform="translate(80.66,1108.19) scale(1.1033,1)" font-size="16.68" font-weight="normal" fill="#141414" stroke="#141414" stroke-width="0.0">20</text>
<text transform="translate(80.66,1067.35) scale(1.1033,1)" font-size="16.68" font-weight="normal" fill="#141414" stroke="#141414" stroke-width="0.0">40</text>
<text transform="translate(80.66,1026.51) scale(1.1033,1)" font-size="16.68" font-weight="normal" fill="#141414" stroke="#141414" stroke-width="0.0">60</text>
<text transform="translate(80.66,985.67) scale(1.1033,1)" font-size="16.68" font-weight="normal" fill="#141414" stroke="#141414" stroke-width="0.0">80</text>
<text transform="translate(80.66,944.83) scale(1.1033,1)" font-size="16.68" font-weight="normal" fill="#141414" stroke="#141414" stroke-width="0.0">00</text>
<path d="M74.8,933.2 H76.9 V945 H74.8 V936.74 Q73.06,936.27 71.9,936.62 V934.97 Q73.93,934.62 74.8,933.2 Z" fill="#141414"/>
<text transform="translate(139.36,1171.93) scale(0.9797,1)" font-size="17.24" font-weight="normal" font-style="normal" fill="#141414" stroke="#141414" stroke-width="0.0">CTRL</text>
<text transform="translate(206.92,1171.93) scale(1.0429,1)" font-size="17.24" font-weight="normal" font-style="normal" fill="#141414" stroke="#141414" stroke-width="0.0">EPCO</text>
<text transform="translate(286.62,1172.1) scale(0.9411,1)" font-size="17.75" font-weight="normal" font-style="normal" fill="#141414" stroke="#141414" stroke-width="0.0">VEN</text>
<text transform="translate(341.98,1171.93) scale(1.0690,1)" font-size="17.24" font-weight="normal" font-style="normal" fill="#141414" stroke="#141414" stroke-width="0.0">EPCO+</text>
<text transform="translate(357.32,1193.1) scale(0.9717,1)" font-size="16.87" font-weight="normal" font-style="normal" fill="#141414" stroke="#141414" stroke-width="0.0">VEN</text>
<text transform="translate(247.78,815.39) scale(0.9862,1)" font-size="21.20" font-weight="normal" font-style="normal" fill="#141414" stroke="#141414" stroke-width="0.0">RES</text>
<text transform="translate(57.36,1084.22) rotate(-90) scale(0.7381,1)" font-size="19.95" fill="#141414" stroke="#141414" stroke-width="0.745">% CLL viabilty</text>
<circle cx="127.8" cy="1106.3" r="4.1" fill="#111" stroke="#000" stroke-width="1.2"/>
<text transform="translate(138.3,1110.8) scale(1.2048,1)" font-size="14.40" font-weight="normal" font-style="normal" fill="#141414" stroke="#141414" stroke-width="0.0">IBR</text>
<polygon points="128.9,1126.24 133.86,1131.2 128.9,1136.16 123.94,1131.2" fill="#111" stroke="#000" stroke-width="1.2"/>
<text transform="translate(141.86,1135.75) scale(1.0309,1)" font-size="15.27" font-weight="normal" font-style="normal" fill="#141414" stroke="#141414" stroke-width="0.0">ACA</text>
<circle cx="161.9" cy="943.8" r="3.75" fill="#C3113D" stroke="#2E040E" stroke-width="1.5"/>
<circle cx="161.9" cy="958" r="3.75" fill="#C3113D" stroke="#2E040E" stroke-width="1.5"/>
<circle cx="161.9" cy="967.4" r="3.75" fill="#C3113D" stroke="#2E040E" stroke-width="1.5"/>
<polygon points="170.4,975.9 175,980.5 170.4,985.1 165.8,980.5" fill="#C3113D" stroke="#2E040E" stroke-width="1.5"/>
<polygon points="154.2,984.3 158.8,988.9 154.2,993.5 149.6,988.9" fill="#C3113D" stroke="#2E040E" stroke-width="1.5"/>
<circle cx="170.4" cy="990.3" r="3.75" fill="#C3113D" stroke="#2E040E" stroke-width="1.5"/>
<polygon points="153.9,1005.1 158.5,1009.7 153.9,1014.3 149.3,1009.7" fill="#C3113D" stroke="#2E040E" stroke-width="1.5"/>
<circle cx="170.4" cy="1012.8" r="3.75" fill="#C3113D" stroke="#2E040E" stroke-width="1.5"/>
<circle cx="161.9" cy="1048.8" r="3.75" fill="#C3113D" stroke="#2E040E" stroke-width="1.5"/>
<circle cx="232.7" cy="1059.7" r="3.75" fill="#3EA6DA" stroke="#0E2B44" stroke-width="1.5"/>
<polygon points="232.7,1073.1 237.3,1077.7 232.7,1082.3 228.1,1077.7" fill="#3EA6DA" stroke="#0E2B44" stroke-width="1.5"/>
<circle cx="232.7" cy="1112" r="3.75" fill="#3EA6DA" stroke="#0E2B44" stroke-width="1.5"/>
<polygon points="213.5,1118.2 218.1,1122.8 213.5,1127.4 208.9,1122.8" fill="#3EA6DA" stroke="#0E2B44" stroke-width="1.5"/>
<circle cx="232.7" cy="1125.8" r="3.75" fill="#3EA6DA" stroke="#0E2B44" stroke-width="1.5"/>
<polygon points="252.7,1121.6 257.3,1126.2 252.7,1130.8 248.1,1126.2" fill="#3EA6DA" stroke="#0E2B44" stroke-width="1.5"/>
<circle cx="232.7" cy="1136.2" r="3.75" fill="#3EA6DA" stroke="#0E2B44" stroke-width="1.5"/>
<circle cx="252.7" cy="1138.2" r="3.75" fill="#3EA6DA" stroke="#0E2B44" stroke-width="1.5"/>
<circle cx="213.5" cy="1143.1" r="3.75" fill="#3EA6DA" stroke="#0E2B44" stroke-width="1.5"/>
<circle cx="303.8" cy="963.1" r="3.75" fill="#1D446F" stroke="#081628" stroke-width="1.5"/>
<circle cx="303.8" cy="973.1" r="3.75" fill="#1D446F" stroke="#081628" stroke-width="1.5"/>
<polygon points="303.8,1038.2 308.4,1042.8 303.8,1047.4 299.2,1042.8" fill="#1D446F" stroke="#081628" stroke-width="1.5"/>
<circle cx="303.8" cy="1083.5" r="3.75" fill="#1D446F" stroke="#081628" stroke-width="1.5"/>
<circle cx="323.5" cy="1101.2" r="3.75" fill="#1D446F" stroke="#081628" stroke-width="1.5"/>
<circle cx="284.6" cy="1108.5" r="3.75" fill="#1D446F" stroke="#081628" stroke-width="1.5"/>
<polygon points="303.8,1105.9 308.4,1110.5 303.8,1115.1 299.2,1110.5" fill="#1D446F" stroke="#081628" stroke-width="1.5"/>
<polygon points="323.8,1109.7 328.4,1114.3 323.8,1118.9 319.2,1114.3" fill="#1D446F" stroke="#081628" stroke-width="1.5"/>
<circle cx="284.6" cy="1118.9" r="3.75" fill="#1D446F" stroke="#081628" stroke-width="1.5"/>
<polygon points="355.1,1128.5 359.7,1133.1 355.1,1137.7 350.5,1133.1" fill="#50265F" stroke="#1E0826" stroke-width="1.5"/>
<circle cx="363.1" cy="1135.7" r="3.75" fill="#50265F" stroke="#1E0826" stroke-width="1.5"/>
<circle cx="370.5" cy="1133.1" r="3.75" fill="#50265F" stroke="#1E0826" stroke-width="1.5"/>
<polygon points="378.2,1132.3 382.8,1136.9 378.2,1141.5 373.6,1136.9" fill="#50265F" stroke="#1E0826" stroke-width="1.5"/>
<circle cx="394.2" cy="1128.9" r="3.75" fill="#50265F" stroke="#1E0826" stroke-width="1.5"/>
<circle cx="355.4" cy="1143.1" r="3.75" fill="#50265F" stroke="#1E0826" stroke-width="1.5"/>
<polygon points="370.5,1138.2 375.1,1142.8 370.5,1147.4 365.9,1142.8" fill="#50265F" stroke="#1E0826" stroke-width="1.5"/>
<circle cx="386.2" cy="1143.5" r="3.75" fill="#50265F" stroke="#1E0826" stroke-width="1.5"/>
<circle cx="394.2" cy="1140.3" r="3.75" fill="#50265F" stroke="#1E0826" stroke-width="1.5"/>
<text transform="translate(14.56,1253.8) scale(1.0111,1)" font-size="25.45" font-weight="bold" font-style="normal" fill="#141414" stroke="#141414" stroke-width="0.5">B</text>
<line x1="114.2" y1="1269.2" x2="114.2" y2="1490.2" stroke="#141414" stroke-width="2"/>
<line x1="108" y1="1276.8" x2="115" y2="1276.8" stroke="#141414" stroke-width="2"/>
<line x1="108" y1="1347.7" x2="115" y2="1347.7" stroke="#141414" stroke-width="2"/>
<line x1="108" y1="1418.6" x2="115" y2="1418.6" stroke="#141414" stroke-width="2"/>
<line x1="108" y1="1489.5" x2="115" y2="1489.5" stroke="#141414" stroke-width="2"/>
<text transform="translate(80.46,1282.44) scale(1.1224,1)" font-size="16.40" font-weight="normal" fill="#141414" stroke="#141414" stroke-width="0.0">00</text>
<path d="M74.6,1271 H76.7 V1282.6 H74.6 V1274.48 Q72.86,1274.02 71.7,1274.36 V1272.74 Q73.73,1272.39 74.6,1271 Z" fill="#141414"/>
<text transform="translate(80.46,1353.34) scale(1.1224,1)" font-size="16.40" font-weight="normal" fill="#141414" stroke="#141414" stroke-width="0.0">50</text>
<text transform="translate(90.68,1424.24) scale(1.1224,1)" font-size="16.40" font-weight="normal" fill="#141414" stroke="#141414" stroke-width="0.0">0</text>
<text transform="translate(80.46,1495.14) scale(1.1224,1)" font-size="16.40" font-weight="normal" fill="#141414" stroke="#141414" stroke-width="0.0">50</text>
<line x1="70.6" y1="1489.8" x2="79" y2="1489.8" stroke="#141414" stroke-width="1.4"/>
<line x1="113.5" y1="1418.6" x2="382.2" y2="1418.6" stroke="#141414" stroke-width="2"/>
<line x1="140.2" y1="1418.6" x2="140.2" y2="1422.1" stroke="#141414" stroke-width="1.5"/>
<line x1="155.64" y1="1418.6" x2="155.64" y2="1422.1" stroke="#141414" stroke-width="1.5"/>
<line x1="166.6" y1="1418.6" x2="166.6" y2="1422.1" stroke="#141414" stroke-width="1.5"/>
<line x1="175.1" y1="1418.6" x2="175.1" y2="1422.1" stroke="#141414" stroke-width="1.5"/>
<line x1="182.04" y1="1418.6" x2="182.04" y2="1422.1" stroke="#141414" stroke-width="1.5"/>
<line x1="187.92" y1="1418.6" x2="187.92" y2="1422.1" stroke="#141414" stroke-width="1.5"/>
<line x1="193" y1="1418.6" x2="193" y2="1422.1" stroke="#141414" stroke-width="1.5"/>
<line x1="197.49" y1="1418.6" x2="197.49" y2="1422.1" stroke="#141414" stroke-width="1.5"/>
<line x1="201.5" y1="1418.6" x2="201.5" y2="1425.6" stroke="#141414" stroke-width="2"/>
<line x1="227.9" y1="1418.6" x2="227.9" y2="1422.1" stroke="#141414" stroke-width="1.5"/>
<line x1="243.34" y1="1418.6" x2="243.34" y2="1422.1" stroke="#141414" stroke-width="1.5"/>
<line x1="254.3" y1="1418.6" x2="254.3" y2="1422.1" stroke="#141414" stroke-width="1.5"/>
<line x1="262.8" y1="1418.6" x2="262.8" y2="1422.1" stroke="#141414" stroke-width="1.5"/>
<line x1="269.74" y1="1418.6" x2="269.74" y2="1422.1" stroke="#141414" stroke-width="1.5"/>
<line x1="275.62" y1="1418.6" x2="275.62" y2="1422.1" stroke="#141414" stroke-width="1.5"/>
<line x1="280.7" y1="1418.6" x2="280.7" y2="1422.1" stroke="#141414" stroke-width="1.5"/>
<line x1="285.19" y1="1418.6" x2="285.19" y2="1422.1" stroke="#141414" stroke-width="1.5"/>
<line x1="289.2" y1="1418.6" x2="289.2" y2="1425.6" stroke="#141414" stroke-width="2"/>
<line x1="315.6" y1="1418.6" x2="315.6" y2="1422.1" stroke="#141414" stroke-width="1.5"/>
<line x1="331.04" y1="1418.6" x2="331.04" y2="1422.1" stroke="#141414" stroke-width="1.5"/>
<line x1="342" y1="1418.6" x2="342" y2="1422.1" stroke="#141414" stroke-width="1.5"/>
<line x1="350.5" y1="1418.6" x2="350.5" y2="1422.1" stroke="#141414" stroke-width="1.5"/>
<line x1="357.44" y1="1418.6" x2="357.44" y2="1422.1" stroke="#141414" stroke-width="1.5"/>
<line x1="363.32" y1="1418.6" x2="363.32" y2="1422.1" stroke="#141414" stroke-width="1.5"/>
<line x1="368.4" y1="1418.6" x2="368.4" y2="1422.1" stroke="#141414" stroke-width="1.5"/>
<line x1="372.89" y1="1418.6" x2="372.89" y2="1422.1" stroke="#141414" stroke-width="1.5"/>
<line x1="376.9" y1="1418.6" x2="376.9" y2="1425.6" stroke="#141414" stroke-width="2"/>
<path d="M188,1435.3 H189.8 V1446.8 H188 V1438.75 Q186.5,1438.29 185.5,1438.63 V1437.02 Q187.25,1436.68 188,1435.3 Z" fill="#141414"/>
<text transform="translate(193.59,1446.83) scale(1.0764,1)" font-size="16.54" font-weight="normal" fill="#141414" stroke="#141414" stroke-width="0.0">0</text>
<line x1="204.3" y1="1437.2" x2="210.1" y2="1437.2" stroke="#141414" stroke-width="1.3"/>
<text transform="translate(211.76,1439.5) scale(1.2180,1)" font-size="10.47" font-weight="normal" fill="#141414" stroke="#141414" stroke-width="0.0">2</text>
<path d="M274.8,1435.3 H276.6 V1446.8 H274.8 V1438.75 Q273.3,1438.29 272.3,1438.63 V1437.02 Q274.05,1436.68 274.8,1435.3 Z" fill="#141414"/>
<text transform="translate(280.39,1446.83) scale(1.0764,1)" font-size="16.54" font-weight="normal" fill="#141414" stroke="#141414" stroke-width="0.0">0</text>
<line x1="291.1" y1="1437.2" x2="296.9" y2="1437.2" stroke="#141414" stroke-width="1.3"/>
<path d="M300.2,1432.2 H301.7 V1439.5 H300.2 V1434.39 Q299.06,1434.1 298.3,1434.32 V1433.3 Q299.63,1433.08 300.2,1432.2 Z" fill="#141414"/>
<path d="M363.4,1435.3 H365.2 V1446.8 H363.4 V1438.75 Q361.9,1438.29 360.9,1438.63 V1437.02 Q362.65,1436.68 363.4,1435.3 Z" fill="#141414"/>
<text transform="translate(368.99,1446.83) scale(1.0764,1)" font-size="16.54" font-weight="normal" fill="#141414" stroke="#141414" stroke-width="0.0">0</text>
<text transform="translate(379.89,1439.5) scale(1.2180,1)" font-size="10.47" font-weight="normal" fill="#141414" stroke="#141414" stroke-width="0.0">0</text>
<text transform="translate(191.81,1487.81) scale(0.7447,1)" font-size="19.32" font-weight="normal" font-style="normal" fill="#141414" stroke="#141414" stroke-width="0.45">Baseline E:T ratio</text>
<text transform="translate(57.28,1449.62) rotate(-90) scale(0.7514,1)" font-size="19.84" fill="#141414" stroke="#141414" stroke-width="0.732">% CLL specific killing</text>
<line x1="195.3" y1="1336.6" x2="355.8" y2="1269.3" stroke="#141414" stroke-width="1.5" stroke-dasharray="2.2,2.2"/>
<polygon points="195.8,1292 199.6,1298.8 192,1298.8" fill="#8E1B34" stroke="#2E0510" stroke-width="1.0" stroke-linejoin="round"/>
<polygon points="219.2,1288.1 223,1294.9 215.4,1294.9" fill="#8E1B34" stroke="#2E0510" stroke-width="1.0" stroke-linejoin="round"/>
<polygon points="238.5,1278.1 242.3,1284.9 234.7,1284.9" fill="#8E1B34" stroke="#2E0510" stroke-width="1.0" stroke-linejoin="round"/>
<polygon points="244.2,1278.9 248,1285.7 240.4,1285.7" fill="#8E1B34" stroke="#2E0510" stroke-width="1.0" stroke-linejoin="round"/>
<polygon points="251.5,1277.1 255.3,1283.9 247.7,1283.9" fill="#8E1B34" stroke="#2E0510" stroke-width="1.0" stroke-linejoin="round"/>
<polygon points="255,1292.4 258.8,1299.2 251.2,1299.2" fill="#8E1B34" stroke="#2E0510" stroke-width="1.0" stroke-linejoin="round"/>
<polygon points="239.6,1296.1 243.4,1302.9 235.8,1302.9" fill="#8E1B34" stroke="#2E0510" stroke-width="1.0" stroke-linejoin="round"/>
<polygon points="242.2,1298.1 246,1304.9 238.4,1304.9" fill="#8E1B34" stroke="#2E0510" stroke-width="1.0" stroke-linejoin="round"/>
<polygon points="240.2,1315.3 244,1322.1 236.4,1322.1" fill="#8E1B34" stroke="#2E0510" stroke-width="1.0" stroke-linejoin="round"/>
<polygon points="240.2,1326.7 244,1333.5 236.4,1333.5" fill="#8E1B34" stroke="#2E0510" stroke-width="1.0" stroke-linejoin="round"/>
<polygon points="240.2,1338.4 244,1345.2 236.4,1345.2" fill="#8E1B34" stroke="#2E0510" stroke-width="1.0" stroke-linejoin="round"/>
<polygon points="244.5,1338.4 248.3,1345.2 240.7,1345.2" fill="#8E1B34" stroke="#2E0510" stroke-width="1.0" stroke-linejoin="round"/>
<polygon points="241.3,1388.6 245.1,1395.4 237.5,1395.4" fill="#8E1B34" stroke="#2E0510" stroke-width="1.0" stroke-linejoin="round"/>
<polygon points="202.2,1409.5 206,1416.3 198.4,1416.3" fill="#8E1B34" stroke="#2E0510" stroke-width="1.0" stroke-linejoin="round"/>
<polygon points="231.4,1414.8 235.2,1421.6 227.6,1421.6" fill="#8E1B34" stroke="#2E0510" stroke-width="1.0" stroke-linejoin="round"/>
<circle cx="234.1" cy="1336.8" r="2.7" fill="#45ACDD" stroke="#0E2B44" stroke-width="1.0"/>
<circle cx="261" cy="1280.7" r="2.7" fill="#45ACDD" stroke="#0E2B44" stroke-width="1.0"/>
<circle cx="270.8" cy="1278.2" r="2.7" fill="#45ACDD" stroke="#0E2B44" stroke-width="1.0"/>
<circle cx="293.6" cy="1277.9" r="2.7" fill="#45ACDD" stroke="#0E2B44" stroke-width="1.0"/>
<polygon points="252.7,1281.5 255.8,1284.6 252.7,1287.7 249.6,1284.6" fill="#4FAF4B" stroke="#123A12" stroke-width="1.0"/>
<polygon points="274.2,1275.4 277.3,1278.5 274.2,1281.6 271.1,1278.5" fill="#4FAF4B" stroke="#123A12" stroke-width="1.0"/>
<polygon points="315.4,1275 318.5,1278.1 315.4,1281.2 312.3,1278.1" fill="#4FAF4B" stroke="#123A12" stroke-width="1.0"/>
<polygon points="332,1274.5 335.1,1277.6 332,1280.7 328.9,1277.6" fill="#4FAF4B" stroke="#123A12" stroke-width="1.0"/>
<polygon points="333.4,1277.7 336.5,1280.8 333.4,1283.9 330.3,1280.8" fill="#4FAF4B" stroke="#123A12" stroke-width="1.0"/>
<polygon points="323.5,1291.6 326.6,1294.7 323.5,1297.8 320.4,1294.7" fill="#4FAF4B" stroke="#123A12" stroke-width="1.0"/>
<polygon points="353.5,1277.3 356.6,1280.4 353.5,1283.5 350.4,1280.4" fill="#4FAF4B" stroke="#123A12" stroke-width="1.0"/>
<rect x="277.4" y="1275.7" width="5.6" height="5.6" fill="#1F4C7C" stroke="#0A1A2E" stroke-width="1.0"/>
<rect x="296.6" y="1276.3" width="5.6" height="5.6" fill="#1F4C7C" stroke="#0A1A2E" stroke-width="1.0"/>
<rect x="292.8" y="1281.4" width="5.6" height="5.6" fill="#1F4C7C" stroke="#0A1A2E" stroke-width="1.0"/>
<rect x="326" y="1282.7" width="5.6" height="5.6" fill="#1F4C7C" stroke="#0A1A2E" stroke-width="1.0"/>
<rect x="329.2" y="1284.5" width="5.6" height="5.6" fill="#1F4C7C" stroke="#0A1A2E" stroke-width="1.0"/>
<rect x="341.9" y="1273.7" width="5.6" height="5.6" fill="#1F4C7C" stroke="#0A1A2E" stroke-width="1.0"/>
<rect x="356" y="1281" width="5.6" height="5.6" fill="#1F4C7C" stroke="#0A1A2E" stroke-width="1.0"/>
<rect x="358.7" y="1282.7" width="5.6" height="5.6" fill="#1F4C7C" stroke="#0A1A2E" stroke-width="1.0"/>
<polygon points="391,1315.35 395.7,1324.65 386.3,1324.65" fill="#A01A3C" stroke="#2E0510" stroke-width="1.0" stroke-linejoin="round"/>
<text transform="translate(401.54,1324.8) scale(1.0071,1)" font-size="15.85" font-weight="normal" font-style="normal" fill="#A11C3E" stroke="#A11C3E" stroke-width="0.0">TN</text>
<circle cx="390.1" cy="1341.5" r="3.1" fill="#45ACDD" stroke="#0E2B44" stroke-width="1.2"/>
<text transform="translate(400.93,1346.5) scale(1.0695,1)" font-size="15.85" font-weight="normal" font-style="normal" fill="#4AAEE0" stroke="#4AAEE0" stroke-width="0.0">IBR</text>
<polygon points="391.1,1359.04 395.46,1363.4 391.1,1367.76 386.74,1363.4" fill="#4FAF4B" stroke="#123A12" stroke-width="1.2"/>
<text transform="translate(402.46,1368.05) scale(1.0022,1)" font-size="15.27" font-weight="normal" font-style="normal" fill="#4BAF4A" stroke="#4BAF4A" stroke-width="0.0">ACA</text>
<rect x="387.2" y="1381.1" width="7.8" height="7.8" fill="#1F4C7C" stroke="#0A1A2E" stroke-width="1.2"/>
<text transform="translate(401.66,1389.74) scale(1.0411,1)" font-size="15.55" font-weight="normal" font-style="normal" fill="#1F4A7A" stroke="#1F4A7A" stroke-width="0.0">RES</text>
<path d="M434.5,1332.3 H449.5 Q452.7,1332.3 452.7,1335.5 V1348.5 Q452.7,1351.7 455.0,1351.7 Q452.7,1351.7 452.7,1354.9 V1368.2 Q452.7,1371.4 449.5,1371.4 H434.5" fill="none" stroke="#141414" stroke-width="1.6"/>
<line x1="454.5" y1="1351.7" x2="464" y2="1351.7" stroke="#141414" stroke-width="1.6"/>
<text transform="translate(470.77,1356.7) scale(1.1123,1)" font-size="14.48" font-weight="normal" font-style="normal" fill="#141414" stroke="#141414" stroke-width="0.0">BTKi</text>
<text transform="translate(264.8,1373.4) scale(0.9144,1)" font-size="16.19" font-weight="normal" font-style="normal" fill="#141414" stroke="#141414" stroke-width="0.0">r</text>
<rect x="275.3" y="1366.1" width="11.9" height="1.5" fill="#141414"/>
<rect x="275.3" y="1369.8" width="11.9" height="1.5" fill="#141414"/>
<text transform="translate(291.76,1373.43) scale(1.0949,1)" font-size="16.96" font-weight="normal" font-style="normal" fill="#141414" stroke="#141414" stroke-width="0.0">0.6459</text>
<text transform="translate(265.45,1399) scale(1.0728,1)" font-size="17.16" font-weight="normal" font-style="italic" fill="#141414" stroke="#141414" stroke-width="0.0">P</text>
<rect x="281" y="1391.4" width="12.2" height="1.5" fill="#141414"/>
<rect x="281" y="1394.9" width="12.2" height="1.5" fill="#141414"/>
<text transform="translate(296.55,1400.7) scale(1.1010,1)" font-size="22.66" font-weight="normal" font-style="normal" fill="#141414" stroke="#141414" stroke-width="0.2"><</text>
<text transform="translate(313.81,1399.13) scale(1.0696,1)" font-size="17.10" font-weight="normal" font-style="normal" fill="#141414" stroke="#141414" stroke-width="0.0">.000</text>
<path d="M354,1387.2 H355.8 V1399.3 H354 V1390.83 Q352.74,1390.35 351.9,1390.71 V1389.02 Q353.37,1388.65 354,1387.2 Z" fill="#141414"/>
<rect x="0" y="0" width="520" height="1.2" fill="#111"/>
<rect x="0" y="0" width="1.3" height="1514" fill="#111"/>
<rect x="518.4" y="0" width="1.6" height="1514" fill="#111"/>
<rect x="0" y="1512.4" width="520" height="1.6" fill="#111"/>
</svg>
</body></html>
